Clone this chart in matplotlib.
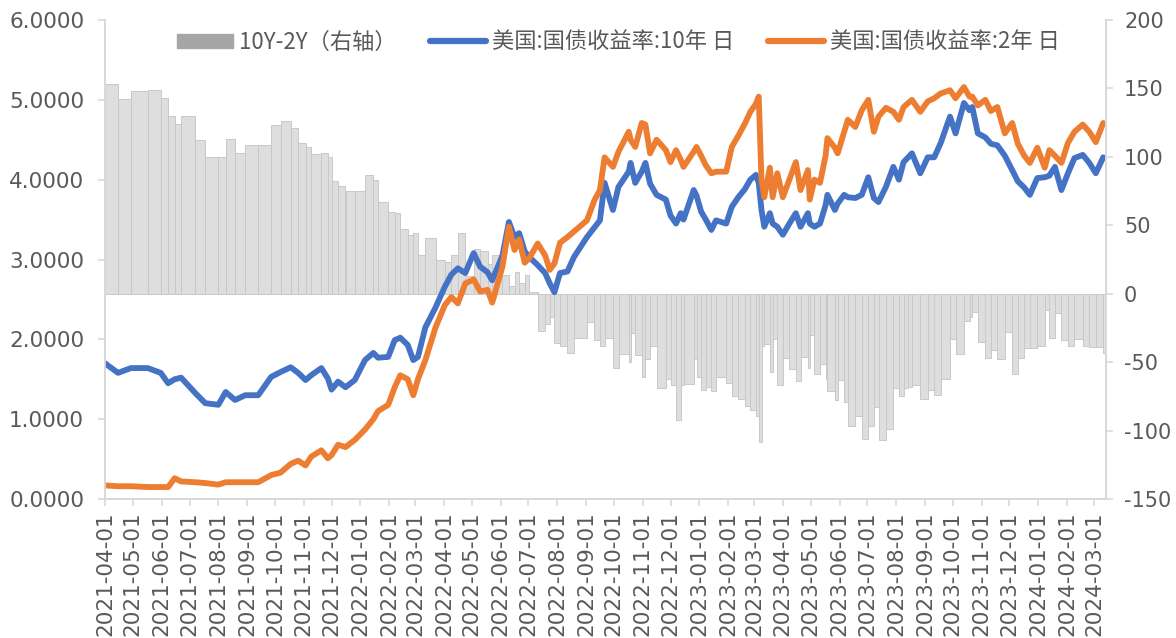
import numpy as np
import pandas as pd
import matplotlib
matplotlib.use("Agg")
import matplotlib.pyplot as plt
import matplotlib.dates as mdates
from matplotlib.patches import Patch
from matplotlib.lines import Line2D
from matplotlib.ticker import FormatStrFormatter, MultipleLocator

plt.rcParams["axes.unicode_minus"] = False

# values (dates + yields in %)
dates = [
    "2021-04-01", "2021-04-15", "2021-04-29", "2021-05-17", "2021-05-31", "2021-06-08",
    "2021-06-15", "2021-06-22", "2021-07-07", "2021-07-18", "2021-08-01", "2021-08-09",
    "2021-08-19", "2021-08-30", "2021-09-13", "2021-09-27", "2021-10-07", "2021-10-18",
    "2021-10-26", "2021-11-03", "2021-11-09", "2021-11-20", "2021-11-27", "2021-12-01",
    "2021-12-08", "2021-12-16", "2021-12-26",
    "2022-01-06", "2022-01-15", "2022-01-20", "2022-01-31", "2022-02-07", "2022-02-13",
    "2022-02-21", "2022-02-27", "2022-03-04", "2022-03-12", "2022-03-23", "2022-04-02",
    "2022-04-09", "2022-04-16", "2022-04-24", "2022-05-03", "2022-05-10", "2022-05-18",
    "2022-05-23", "2022-06-03", "2022-06-10", "2022-06-16", "2022-06-21", "2022-06-27",
    "2022-07-02", "2022-07-11", "2022-07-19", "2022-07-24", "2022-07-29", "2022-08-04",
    "2022-08-12", "2022-08-19", "2022-09-02", "2022-09-10", "2022-09-16", "2022-09-21",
    "2022-09-30", "2022-10-06", "2022-10-17", "2022-10-19", "2022-10-24", "2022-10-31",
    "2022-11-04", "2022-11-09", "2022-11-16", "2022-11-26", "2022-12-01", "2022-12-07",
    "2022-12-12", "2022-12-15", "2022-12-26", "2022-12-29",
    "2023-01-03", "2023-01-08", "2023-01-14", "2023-01-19", "2023-01-30", "2023-02-05",
    "2023-02-12", "2023-02-19", "2023-02-25", "2023-03-03", "2023-03-06", "2023-03-09",
    "2023-03-12", "2023-03-18", "2023-03-21", "2023-03-26", "2023-04-01", "2023-04-08",
    "2023-04-15", "2023-04-20", "2023-04-28", "2023-04-30", "2023-05-05", "2023-05-11",
    "2023-05-17", "2023-05-19", "2023-05-27", "2023-05-30", "2023-06-06", "2023-06-10",
    "2023-06-18", "2023-06-25", "2023-07-02", "2023-07-08", "2023-07-13", "2023-07-21",
    "2023-07-29", "2023-08-04", "2023-08-09", "2023-08-14", "2023-08-18", "2023-08-27",
    "2023-09-04", "2023-09-11", "2023-09-18", "2023-09-28", "2023-10-04", "2023-10-13",
    "2023-10-19", "2023-10-22", "2023-10-28", "2023-11-05", "2023-11-11", "2023-11-18",
    "2023-11-26", "2023-12-04", "2023-12-10", "2023-12-17", "2023-12-23", "2023-12-31",
    "2024-01-08", "2024-01-13", "2024-01-19", "2024-01-26", "2024-02-02", "2024-02-09",
    "2024-02-18", "2024-02-25", "2024-03-03", "2024-03-11",
]

us10y = [
    1.70, 1.58, 1.64, 1.64, 1.58, 1.45,
    1.50, 1.52, 1.33, 1.20, 1.18, 1.34,
    1.24, 1.30, 1.30, 1.53, 1.59, 1.65,
    1.58, 1.49, 1.55, 1.64, 1.51, 1.37,
    1.47, 1.40, 1.49,
    1.74, 1.83, 1.77, 1.78, 1.99, 2.02,
    1.93, 1.74, 1.78, 2.15, 2.40, 2.66,
    2.81, 2.89, 2.83, 3.08, 2.91, 2.84,
    2.74, 3.05, 3.47, 3.28, 3.33, 3.10,
    3.03, 2.93, 2.83, 2.70, 2.59, 2.83,
    2.85, 3.03, 3.28, 3.40, 3.49, 3.96,
    3.62, 3.91, 4.10, 4.21, 3.96, 4.10,
    4.21, 3.95, 3.81, 3.75, 3.55, 3.45,
    3.58, 3.50, 3.87, 3.80,
    3.60, 3.50, 3.37, 3.49, 3.45, 3.66,
    3.78, 3.88, 4.00, 4.06, 3.96, 3.62,
    3.41, 3.58, 3.45, 3.41, 3.31, 3.45,
    3.58, 3.41, 3.58, 3.45, 3.41, 3.45,
    3.68, 3.81, 3.62, 3.70, 3.81, 3.78,
    3.77, 3.81, 4.03, 3.77, 3.72, 3.91,
    4.16, 4.00, 4.22, 4.28, 4.33, 4.08,
    4.28, 4.28, 4.46, 4.79, 4.58, 4.96,
    4.87, 4.91, 4.58, 4.53, 4.45, 4.43,
    4.30, 4.12, 3.98, 3.90, 3.81, 4.02,
    4.03, 4.05, 4.16, 3.87, 4.08, 4.27,
    4.31, 4.21, 4.08, 4.28,
]

us2y = [
    0.17, 0.16, 0.16, 0.15, 0.15, 0.15,
    0.26, 0.22, 0.21, 0.20, 0.18, 0.21,
    0.21, 0.21, 0.21, 0.30, 0.33, 0.44,
    0.48, 0.42, 0.53, 0.61, 0.51, 0.55,
    0.68, 0.65, 0.74,
    0.87, 1.00, 1.10, 1.18, 1.40, 1.55,
    1.50, 1.30, 1.50, 1.74, 2.15, 2.43,
    2.53, 2.45, 2.70, 2.75, 2.60, 2.62,
    2.46, 2.91, 3.41, 3.12, 3.25, 2.96,
    3.02, 3.20, 3.05, 2.87, 2.95, 3.21,
    3.28, 3.35, 3.49, 3.74, 3.87, 4.28,
    4.16, 4.35, 4.60, 4.50, 4.41, 4.71,
    4.69, 4.33, 4.50, 4.37, 4.22, 4.37,
    4.25, 4.16, 4.35, 4.41,
    4.30, 4.18, 4.08, 4.10, 4.10, 4.41,
    4.55, 4.70, 4.85, 4.95, 5.04, 4.00,
    3.78, 4.15, 3.78, 4.08, 3.78, 4.00,
    4.22, 3.87, 4.12, 3.75, 4.00, 3.96,
    4.30, 4.52, 4.40, 4.33, 4.60, 4.75,
    4.66, 4.87, 5.00, 4.60, 4.79, 4.90,
    4.85, 4.75, 4.91, 4.96, 5.00, 4.85,
    4.98, 5.02, 5.08, 5.12, 5.02, 5.16,
    5.04, 5.04, 4.93, 5.00, 4.86, 4.91,
    4.58, 4.71, 4.45, 4.30, 4.21, 4.40,
    4.15, 4.37, 4.30, 4.21, 4.46, 4.60,
    4.69, 4.60, 4.47, 4.71,
]

assert len(dates) == len(us10y) == len(us2y)

d = pd.to_datetime(dates)
y10 = np.array(us10y)
y2 = np.array(us2y)
spread = (y10 - y2) * 100  # bp

grey_txt = "#595959"
axis_col = "#d9d9d9"
blue = "#4472C4"
orange = "#ED7D31"

fig = plt.figure(figsize=(11.76, 6.38), dpi=100)
ax1 = fig.add_axes([105 / 1176, 1 - 499 / 638, 1001 / 1176, 479 / 638])
ax2 = ax1.twinx()

# spread bars on right axis, drawn behind the lines
xn = mdates.date2num(d)
w = np.diff(xn)
w = np.append(w, w[-1])
ax2.bar(xn, spread, width=w, align="edge", color="#dedede",
        edgecolor="#c8c8c8", linewidth=0.7)

ax1.plot(d, y10, color=blue, lw=4.2, solid_capstyle="round", solid_joinstyle="round")
ax1.plot(d, y2, color=orange, lw=4.2, solid_capstyle="round", solid_joinstyle="round")

ax1.set_zorder(ax2.get_zorder() + 1)
ax1.patch.set_visible(False)

ax1.set_ylim(0, 6)
ax1.yaxis.set_major_locator(MultipleLocator(1))
ax1.yaxis.set_major_formatter(FormatStrFormatter("%.4f"))
ax2.set_ylim(-150, 200)
ax2.yaxis.set_major_locator(MultipleLocator(50))

ax1.set_xlim(pd.Timestamp("2021-04-01"), pd.Timestamp("2024-03-14"))
ax1.xaxis.set_major_locator(mdates.MonthLocator())
ax1.xaxis.set_major_formatter(mdates.DateFormatter("%Y-%m-%d"))
for lab in ax1.get_xticklabels():
    lab.set_rotation(90)

for ax in (ax1, ax2):
    ax.spines["top"].set_visible(False)
    for s in ("left", "right", "bottom"):
        ax.spines[s].set_color(axis_col)
        ax.spines[s].set_linewidth(1.3)
    ax.tick_params(colors=axis_col, labelcolor=grey_txt, labelsize=15.5,
                   length=5, width=1.2)
ax1.tick_params(axis="y", pad=10)
ax2.tick_params(axis="y", pad=8, labelsize=15)
ax1.tick_params(axis="x", pad=4)

handles = [
    Patch(color="#a6a6a6"),
    Line2D([], [], color=blue, lw=4.5, solid_capstyle="round"),
    Line2D([], [], color=orange, lw=4.5, solid_capstyle="round"),
]
labels = ["10Y-2Y（右轴）", "美国:国债收益率:10年 日", "美国:国债收益率:2年 日"]
ax1.legend(handles, labels, loc="upper center", bbox_to_anchor=(0.513, 1.02),
           ncol=3, frameon=False, handlelength=2.5, handleheight=0.6,
           handletextpad=0.3, columnspacing=1.5,
           prop={"family": ["Noto Sans CJK SC", "DejaVu Sans"], "size": 16},
           labelcolor=grey_txt)

fig.savefig("out.png", dpi=100)
